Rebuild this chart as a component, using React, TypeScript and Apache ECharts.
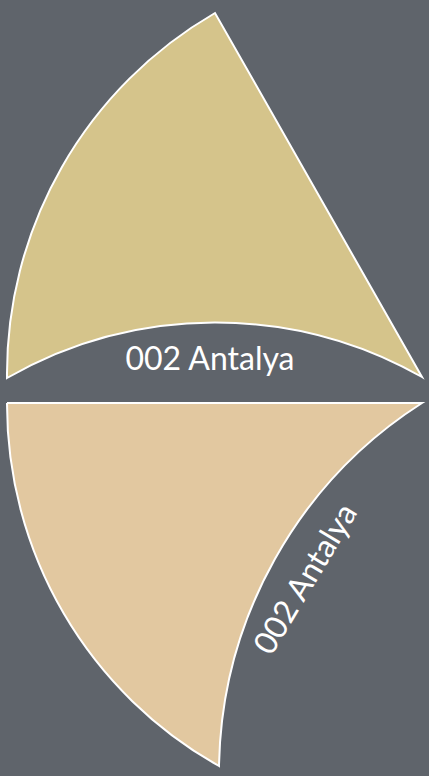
import React, { useEffect, useRef } from 'react';
import * as echarts from 'echarts';

// Swatch data
const swatchNames: string[] = ['002 Antalya', '002 Antalya'];
const swatchFinishes: string[] = ['textured', 'smooth'];
const swatchColors: string[] = ['#d5c48b', '#e2c8a0'];

// Layout (positions/sizes kept apart from the data)
const WIDTH = 429;
const HEIGHT = 776;
const BG = '#5f646b';
const shapePaths: string[] = [
  'M422 377 L215 13 A417 417 0 0 0 7 378 A419 419 0 0 1 422 377 Z',
  'M7 403 L422 403 A440 440 0 0 0 219 766 A415 415 0 0 1 7 403 Z',
];
const labelPos: { x: number; y: number; rot: number }[] = [
  { x: 210, y: 357, rot: 0 },
  { x: 304, y: 578, rot: 59 },
];

export default function App() {
  const ref = useRef<HTMLDivElement>(null);
  useEffect(() => {
    document.body.style.margin = '0';
    document.body.style.background = BG;
    if (!ref.current) return;
    const chart = echarts.init(ref.current, null, { renderer: 'svg' });
    chart.setOption({
      animation: false,
      backgroundColor: BG,
      series: [
        {
          type: 'custom',
          coordinateSystem: 'none',
          data: swatchNames.map((n, i) => ({ name: n, value: [i], finish: swatchFinishes[i] })),
          renderItem: (params: any) => {
            const i = params.dataIndex;
            const lp = labelPos[i];
            return {
              type: 'group',
              children: [
                {
                  type: 'path',
                  shape: { pathData: shapePaths[i] },
                  style: { fill: swatchColors[i], stroke: '#ffffff', lineWidth: 2, lineJoin: 'miter' },
                },
                {
                  type: 'text',
                  x: lp.x,
                  y: lp.y,
                  rotation: (lp.rot * Math.PI) / 180,
                  style: {
                    text: swatchNames[i],
                    fill: '#ffffff',
                    fontFamily: 'Lato',
                    fontWeight: 400,
                    fontSize: 32,
                    align: 'center',
                    verticalAlign: 'middle',
                  },
                },
              ],
            };
          },
        },
      ],
    });
    return () => chart.dispose();
  }, []);
  return <div ref={ref} style={{ width: WIDTH, height: HEIGHT }} />;
}
